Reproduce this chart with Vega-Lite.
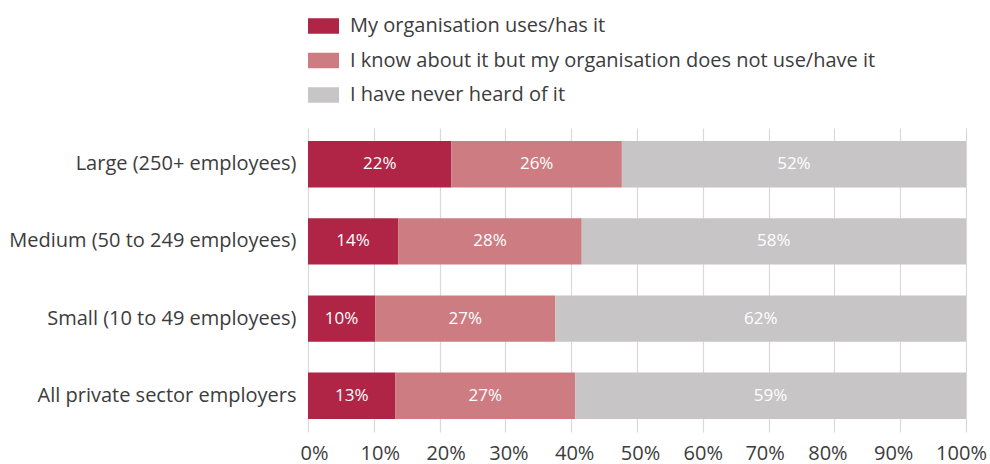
{
  "$schema": "https://vega.github.io/schema/vega-lite/v6.json",
  "autosize": {"type": "none"},
  "width": 658,
  "height": 304,
  "padding": {"left": 308, "top": 128, "right": 24, "bottom": 32},
  "background": "white",
  "config": {
    "font": "Open Sans",
    "view": {"stroke": null},
    "text": {"font": "Open Sans"}
  },
  "data": {
    "values": [
      {"group": "Large (250+ employees)", "response": "My organisation uses/has it", "order": 1, "share": 0.218},
      {"group": "Large (250+ employees)", "response": "I know about it but my organisation does not use/have it", "order": 2, "share": 0.259},
      {"group": "Large (250+ employees)", "response": "I have never heard of it", "order": 3, "share": 0.523},
      {"group": "Medium (50 to 249 employees)", "response": "My organisation uses/has it", "order": 1, "share": 0.137},
      {"group": "Medium (50 to 249 employees)", "response": "I know about it but my organisation does not use/have it", "order": 2, "share": 0.279},
      {"group": "Medium (50 to 249 employees)", "response": "I have never heard of it", "order": 3, "share": 0.584},
      {"group": "Small (10 to 49 employees)", "response": "My organisation uses/has it", "order": 1, "share": 0.102},
      {"group": "Small (10 to 49 employees)", "response": "I know about it but my organisation does not use/have it", "order": 2, "share": 0.274},
      {"group": "Small (10 to 49 employees)", "response": "I have never heard of it", "order": 3, "share": 0.624},
      {"group": "All private sector employers", "response": "My organisation uses/has it", "order": 1, "share": 0.133},
      {"group": "All private sector employers", "response": "I know about it but my organisation does not use/have it", "order": 2, "share": 0.273},
      {"group": "All private sector employers", "response": "I have never heard of it", "order": 3, "share": 0.594}
    ]
  },
  "encoding": {
    "y": {
      "field": "group",
      "type": "nominal",
      "sort": ["Large (250+ employees)", "Medium (50 to 249 employees)", "Small (10 to 49 employees)", "All private sector employers"],
      "scale": {"paddingInner": 0.4, "paddingOuter": 0.17},
      "axis": {
        "title": null,
        "domain": false,
        "ticks": false,
        "labelPadding": 12,
        "labelFontSize": 20,
        "labelColor": "#3c3c3c",
        "labelLimit": 400,
        "labelFont": "Open Sans"
      }
    },
    "x": {
      "field": "share",
      "type": "quantitative",
      "stack": "zero",
      "scale": {"domain": [0, 1], "nice": false},
      "axis": {
        "title": null,
        "format": ".0%",
        "values": [0, 0.1, 0.2, 0.3, 0.4, 0.5, 0.6, 0.7, 0.8, 0.9, 1],
        "grid": true,
        "gridColor": "#d9d9d9",
        "gridWidth": 1.2,
        "domain": false,
        "ticks": false,
        "labelPadding": 11,
        "labelFontSize": 20,
        "labelColor": "#3c3c3c",
        "labelFont": "Open Sans",
        "labelFlush": false,
        "labelOffset": {
          "condition": [
            {"test": "datum.value < 0.25", "value": 6},
            {"test": "datum.value < 0.55", "value": 3},
            {"test": "datum.value < 0.65", "value": 0},
            {"test": "datum.value < 0.75", "value": -4},
            {"test": "datum.value < 0.95", "value": -7}
          ],
          "value": -5
        }
      }
    },
    "order": {"field": "order", "type": "quantitative"}
  },
  "layer": [
    {
      "mark": {"type": "bar"},
      "encoding": {
        "color": {
          "field": "response",
          "type": "nominal",
          "sort": ["My organisation uses/has it", "I know about it but my organisation does not use/have it", "I have never heard of it"],
          "scale": {
            "domain": ["My organisation uses/has it", "I know about it but my organisation does not use/have it", "I have never heard of it"],
            "range": ["#B02546", "#CD7C82", "#C7C5C6"]
          },
          "legend": {
            "title": null,
            "orient": "none",
            "legendX": 0,
            "legendY": -117.5,
            "padding": 0,
            "symbolType": "M-1,-0.5H1V0.5H-1Z",
            "symbolSize": 961,
            "symbolStrokeWidth": 0,
            "symbolOpacity": 1,
            "labelFontSize": 20,
            "labelFont": "Open Sans",
            "labelColor": "#3c3c3c",
            "labelOffset": 11,
            "labelLimit": 700,
            "rowPadding": 8.5
          }
        }
      }
    },
    {
      "mark": {"type": "text", "color": "white", "fontSize": 17, "align": "center", "baseline": "middle"},
      "encoding": {
        "x": {"field": "share", "type": "quantitative", "stack": "zero", "bandPosition": 0.5},
        "text": {"field": "share", "type": "quantitative", "format": ".0%"}
      }
    }
  ]
}
